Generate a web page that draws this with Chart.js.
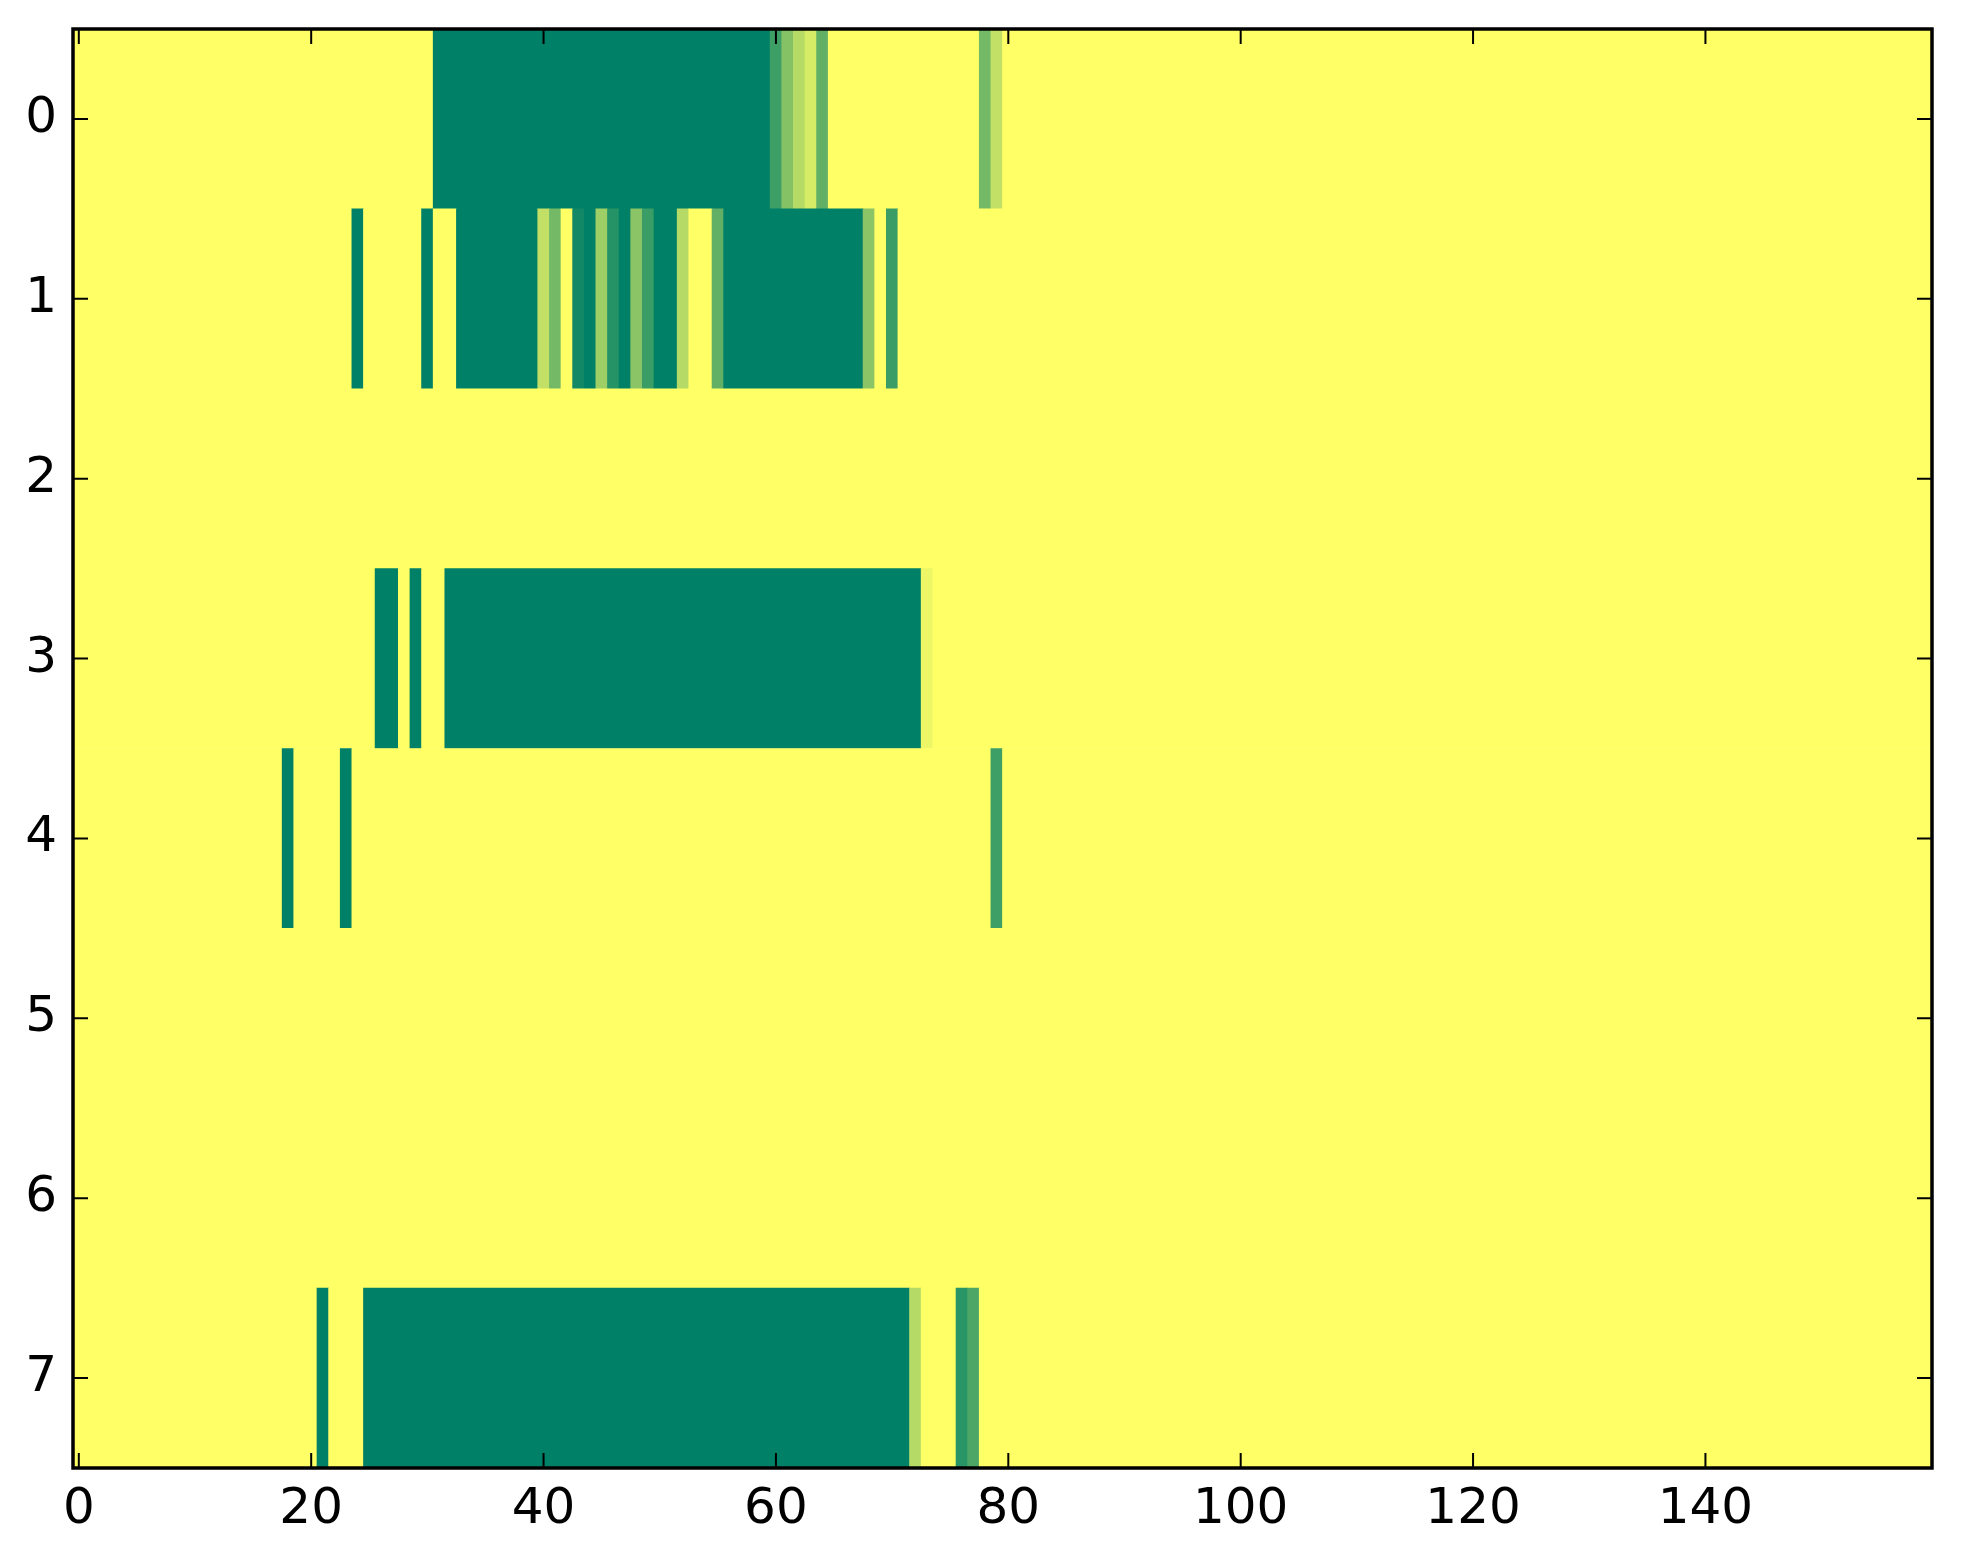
<!DOCTYPE html>
<html>
<head>
<meta charset="utf-8">
<script src="https://cdn.jsdelivr.net/npm/chart.js@4"></script>
<style>
  html, body { margin: 0; padding: 0; background: #ffffff; }
  #wrap { width: 1963px; height: 1564px; }
</style>
</head>
<body>
<div id="wrap"><canvas id="heatmap" width="1963" height="1564"></canvas></div>
<script>
// row labels (top to bottom) and x tick labels
const rowLabels = ["0", "1", "2", "3", "4", "5", "6", "7"];
const xTicks = [0, 20, 40, 60, 80, 100, 120, 140];

// cell values per row, 160 columns each (0 = yellow, 1 = dark green)
const row0 = [
    0,0,0,0,0,0,0,0,0,0, 0,0,0,0,0,0,0,0,0,0, 0,0,0,0,0,0,0,0,0,0, 0,1,1,1,1,1,1,1,1,1,
    1,1,1,1,1,1,1,1,1,1, 1,1,1,1,1,1,1,1,1,1, .76,.48,.29,.16,.62,0,0,0,0,0, 0,0,0,0,0,0,0,0,.55,.24,
    0,0,0,0,0,0,0,0,0,0, 0,0,0,0,0,0,0,0,0,0, 0,0,0,0,0,0,0,0,0,0, 0,0,0,0,0,0,0,0,0,0,
    0,0,0,0,0,0,0,0,0,0, 0,0,0,0,0,0,0,0,0,0, 0,0,0,0,0,0,0,0,0,0, 0,0,0,0,0,0,0,0,0,0
];
const row1 = [
    0,0,0,0,0,0,0,0,0,0, 0,0,0,0,0,0,0,0,0,0, 0,0,0,0,1,0,0,0,0,0, 1,0,0,1,1,1,1,1,1,1,
    .24,.55,0,.93,1,.38,.85,1,.46,.77, 1,1,.29,0,0,.62,1,1,1,1, 1,1,1,1,1,1,1,1,.46,0, .77,0,0,0,0,0,0,0,0,0,
    0,0,0,0,0,0,0,0,0,0, 0,0,0,0,0,0,0,0,0,0, 0,0,0,0,0,0,0,0,0,0, 0,0,0,0,0,0,0,0,0,0,
    0,0,0,0,0,0,0,0,0,0, 0,0,0,0,0,0,0,0,0,0, 0,0,0,0,0,0,0,0,0,0, 0,0,0,0,0,0,0,0,0,0
];
const row2 = [
    0,0,0,0,0,0,0,0,0,0, 0,0,0,0,0,0,0,0,0,0, 0,0,0,0,0,0,0,0,0,0, 0,0,0,0,0,0,0,0,0,0,
    0,0,0,0,0,0,0,0,0,0, 0,0,0,0,0,0,0,0,0,0, 0,0,0,0,0,0,0,0,0,0, 0,0,0,0,0,0,0,0,0,0,
    0,0,0,0,0,0,0,0,0,0, 0,0,0,0,0,0,0,0,0,0, 0,0,0,0,0,0,0,0,0,0, 0,0,0,0,0,0,0,0,0,0,
    0,0,0,0,0,0,0,0,0,0, 0,0,0,0,0,0,0,0,0,0, 0,0,0,0,0,0,0,0,0,0, 0,0,0,0,0,0,0,0,0,0
];
const row3 = [
    0,0,0,0,0,0,0,0,0,0, 0,0,0,0,0,0,0,0,0,0, 0,0,0,0,0,0,1,1,0,1, 0,0,1,1,1,1,1,1,1,1,
    1,1,1,1,1,1,1,1,1,1, 1,1,1,1,1,1,1,1,1,1, 1,1,1,1,1,1,1,1,1,1, 1,1,1,.07,0,0,0,0,0,0,
    0,0,0,0,0,0,0,0,0,0, 0,0,0,0,0,0,0,0,0,0, 0,0,0,0,0,0,0,0,0,0, 0,0,0,0,0,0,0,0,0,0,
    0,0,0,0,0,0,0,0,0,0, 0,0,0,0,0,0,0,0,0,0, 0,0,0,0,0,0,0,0,0,0, 0,0,0,0,0,0,0,0,0,0
];
const row4 = [
    0,0,0,0,0,0,0,0,0,0, 0,0,0,0,0,0,0,0,1,0, 0,0,0,1,0,0,0,0,0,0, 0,0,0,0,0,0,0,0,0,0,
    0,0,0,0,0,0,0,0,0,0, 0,0,0,0,0,0,0,0,0,0, 0,0,0,0,0,0,0,0,0,0, 0,0,0,0,0,0,0,0,0,.76,
    0,0,0,0,0,0,0,0,0,0, 0,0,0,0,0,0,0,0,0,0, 0,0,0,0,0,0,0,0,0,0, 0,0,0,0,0,0,0,0,0,0,
    0,0,0,0,0,0,0,0,0,0, 0,0,0,0,0,0,0,0,0,0, 0,0,0,0,0,0,0,0,0,0, 0,0,0,0,0,0,0,0,0,0
];
const row5 = [
    0,0,0,0,0,0,0,0,0,0, 0,0,0,0,0,0,0,0,0,0, 0,0,0,0,0,0,0,0,0,0, 0,0,0,0,0,0,0,0,0,0,
    0,0,0,0,0,0,0,0,0,0, 0,0,0,0,0,0,0,0,0,0, 0,0,0,0,0,0,0,0,0,0, 0,0,0,0,0,0,0,0,0,0,
    0,0,0,0,0,0,0,0,0,0, 0,0,0,0,0,0,0,0,0,0, 0,0,0,0,0,0,0,0,0,0, 0,0,0,0,0,0,0,0,0,0,
    0,0,0,0,0,0,0,0,0,0, 0,0,0,0,0,0,0,0,0,0, 0,0,0,0,0,0,0,0,0,0, 0,0,0,0,0,0,0,0,0,0
];
const row6 = [
    0,0,0,0,0,0,0,0,0,0, 0,0,0,0,0,0,0,0,0,0, 0,0,0,0,0,0,0,0,0,0, 0,0,0,0,0,0,0,0,0,0,
    0,0,0,0,0,0,0,0,0,0, 0,0,0,0,0,0,0,0,0,0, 0,0,0,0,0,0,0,0,0,0, 0,0,0,0,0,0,0,0,0,0,
    0,0,0,0,0,0,0,0,0,0, 0,0,0,0,0,0,0,0,0,0, 0,0,0,0,0,0,0,0,0,0, 0,0,0,0,0,0,0,0,0,0,
    0,0,0,0,0,0,0,0,0,0, 0,0,0,0,0,0,0,0,0,0, 0,0,0,0,0,0,0,0,0,0, 0,0,0,0,0,0,0,0,0,0
];
const row7 = [
    0,0,0,0,0,0,0,0,0,0, 0,0,0,0,0,0,0,0,0,0, 0,1,0,0,0,1,1,1,1,1, 1,1,1,1,1,1,1,1,1,1,
    1,1,1,1,1,1,1,1,1,1, 1,1,1,1,1,1,1,1,1,1, 1,1,1,1,1,1,1,1,1,1, 1,1,.29,0,0,0,.84,.70,0,0,
    0,0,0,0,0,0,0,0,0,0, 0,0,0,0,0,0,0,0,0,0, 0,0,0,0,0,0,0,0,0,0, 0,0,0,0,0,0,0,0,0,0,
    0,0,0,0,0,0,0,0,0,0, 0,0,0,0,0,0,0,0,0,0, 0,0,0,0,0,0,0,0,0,0, 0,0,0,0,0,0,0,0,0,0
];
const rows = [row0, row1, row2, row3, row4, row5, row6, row7];

// reversed "summer" colormap: 0 -> yellow, 1 -> green
function summerR(v) {
    const t = 1 - v;
    return "rgb(" + Math.round(255 * t) + "," + Math.round(255 * (0.5 + t / 2)) + ",102)";
}

// one floating bar per run of equal cells in a row
const cells = [];
rows.forEach((vals, r) => {
    let start = 0;
    for (let c = 1; c <= vals.length; c++) {
        if (c === vals.length || vals[c] !== vals[start]) {
            cells.push({ x: [start - 0.5, c - 0.5], y: rowLabels[r], v: vals[start] });
            start = c;
        }
    }
});

// frame and inward ticks on all four sides, like the matplotlib classic style
const framePlugin = {
    id: "frame",
    afterDraw(chart) {
        const ctx = chart.ctx;
        const a = chart.chartArea;
        const xs = chart.scales.x;
        const ys = chart.scales.y;
        const len = 15;
        ctx.save();
        ctx.strokeStyle = "#000";
        ctx.lineWidth = 2;
        ctx.beginPath();
        xTicks.forEach(v => {
            const px = xs.getPixelForValue(v);
            ctx.moveTo(px, a.bottom); ctx.lineTo(px, a.bottom - len);
            ctx.moveTo(px, a.top); ctx.lineTo(px, a.top + len);
        });
        rowLabels.forEach((l, i) => {
            const py = ys.getPixelForValue(i);
            ctx.moveTo(a.left, py); ctx.lineTo(a.left + len, py);
            ctx.moveTo(a.right, py); ctx.lineTo(a.right - len, py);
        });
        ctx.stroke();
        ctx.lineWidth = 3.5;
        ctx.strokeRect(a.left, a.top, a.right - a.left, a.bottom - a.top);
        ctx.restore();
    }
};

const tickFont = { family: "DejaVu Sans", size: 50 };

// drop the extra room Chart.js keeps for half tick labels at the ends
function noEndPadding(s) {
    s.paddingTop = 0;
    s.paddingBottom = 0;
    s.paddingLeft = 0;
    s.paddingRight = 0;
}

new Chart(document.getElementById("heatmap"), {
    type: "bar",
    data: {
        labels: rowLabels,
        datasets: [{
            data: cells,
            backgroundColor: c => summerR(c.raw ? c.raw.v : 0),
            borderWidth: 0,
            barPercentage: 1,
            categoryPercentage: 1
        }]
    },
    options: {
        indexAxis: "y",
        responsive: false,
        animation: false,
        layout: { padding: { top: 29, right: 31, left: 0, bottom: 0 } },
        plugins: {
            legend: { display: false },
            tooltip: { enabled: false }
        },
        scales: {
            x: {
                type: "linear",
                min: -0.5,
                max: 159.5,
                afterBuildTicks: s => { s.ticks = xTicks.map(v => ({ value: v })); },
                afterFit: s => { s.height = 96; noEndPadding(s); },
                grid: { display: false, drawTicks: false },
                border: { display: false },
                ticks: { color: "#000", font: tickFont, padding: 12, maxRotation: 0, autoSkip: false }
            },
            y: {
                type: "category",
                afterFit: s => { s.width = 73; noEndPadding(s); },
                grid: { display: false, drawTicks: false },
                border: { display: false },
                ticks: { color: "#000", font: tickFont, padding: 16, autoSkip: false }
            }
        }
    },
    plugins: [framePlugin]
});
</script>
</body>
</html>
